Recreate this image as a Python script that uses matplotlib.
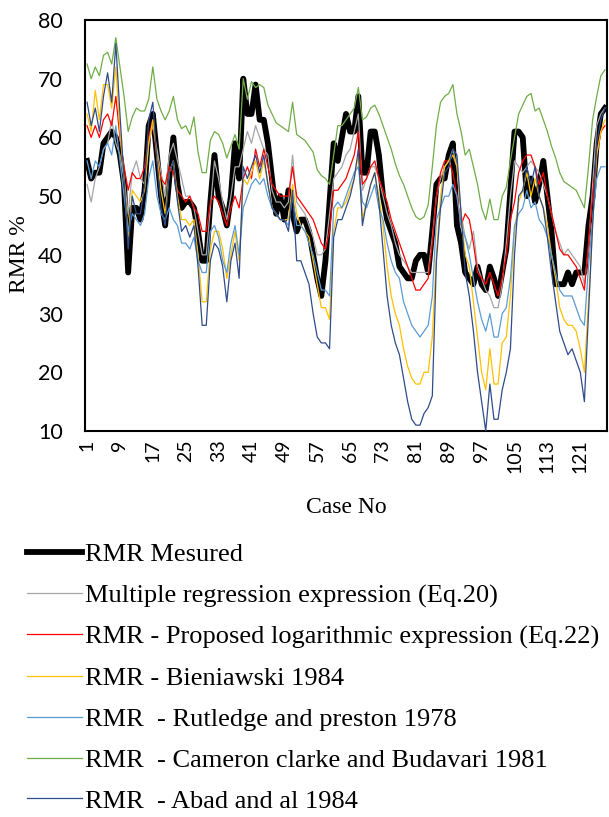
import matplotlib
matplotlib.use("Agg")
import matplotlib.pyplot as plt

# case numbers
cases = list(range(1, 128))

rmr_measured = [56, 53, 54, 54, 59, 60, 61, 60, 57, 52,
                37, 48, 48, 46, 51, 62, 64, 57, 50, 45,
                53, 60, 52, 48, 49, 49, 48, 44, 39, 39,
                49, 57, 50, 48, 45, 50, 59, 53, 70, 64,
                64, 69, 63, 63, 59, 53, 47, 50, 46, 51,
                47, 44, 46, 46, 44, 40, 36, 33, 39, 49,
                59, 56, 60, 64, 61, 61, 67, 54, 54, 61,
                61, 57, 50, 46, 44, 42, 38, 37, 36, 36,
                39, 40, 40, 37, 44, 52, 53, 53, 57, 59,
                45, 42, 37, 36, 35, 38, 35, 34, 38, 36,
                33, 37, 41, 51, 61, 61, 60, 50, 53, 49,
                52, 56, 50, 44, 35, 35, 35, 37, 35, 37,
                37, 37, 45, 50, 59, 64, 65]

multiple_regression = [52, 49, 53, 55, 58, 59, 63, 59, 57, 53,
                       47, 54, 56, 53, 52, 59, 62, 58, 54, 50,
                       57, 59, 56, 53, 50, 50, 48, 44, 40, 40,
                       48, 56, 53, 49, 46, 50, 55, 55, 58, 61,
                       59, 62, 60, 58, 57, 51, 49, 49, 48, 49,
                       57, 49, 48, 47, 45, 43, 40, 40, 41, 47,
                       53, 54, 55, 57, 58, 61, 64, 51, 53, 55,
                       55, 53, 50, 47, 45, 42, 40, 39, 38, 37,
                       37, 37, 37, 37, 43, 50, 53, 55, 56, 58,
                       55, 47, 43, 41, 44, 38, 36, 34, 33, 31,
                       31, 35, 42, 50, 56, 55, 54, 55, 56, 55,
                       54, 52, 50, 47, 44, 42, 40, 41, 40, 39,
                       38, 35, 41, 52, 62, 64, 65]

proposed_log = [62, 60, 62, 60, 63, 64, 62, 67, 60, 55,
                51, 54, 53, 53, 55, 60, 63, 56, 53, 52,
                55, 54, 51, 50, 49, 50, 48, 47, 44, 44,
                49, 50, 49, 47, 45, 48, 50, 48, 53, 55,
                53, 58, 55, 58, 55, 52, 51, 50, 50, 50,
                55, 50, 49, 48, 47, 46, 44, 42, 41, 44,
                51, 51, 52, 53, 55, 57, 61, 52, 53, 55,
                56, 53, 51, 49, 46, 44, 42, 40, 38, 36,
                34, 34, 35, 36, 42, 50, 54, 56, 56, 54,
                50, 45, 47, 46, 42, 37, 36, 35, 37, 35,
                33, 36, 40, 46, 49, 54, 56, 57, 57, 55,
                52, 54, 50, 47, 44, 41, 40, 40, 39, 38,
                36, 34, 42, 50, 57, 61, 62]

bieniawski = [64, 61, 68, 63, 69, 69, 65, 72, 61, 53,
              43, 51, 50, 49, 51, 59, 63, 57, 51, 47,
              54, 56, 50, 46, 46, 45, 46, 40, 32, 32,
              41, 44, 44, 41, 36, 40, 44, 39, 53, 52,
              54, 56, 53, 56, 52, 48, 47, 46, 46, 46,
              52, 47, 45, 44, 43, 39, 35, 31, 31, 29,
              44, 48, 48, 49, 51, 53, 57, 46, 49, 52,
              54, 50, 45, 38, 33, 30, 28, 24, 21, 19,
              18, 18, 20, 20, 26, 40, 50, 55, 56, 57,
              55, 47, 40, 38, 32, 26, 20, 17, 24, 18,
              18, 25, 26, 33, 44, 49, 51, 54, 50, 53,
              50, 48, 45, 40, 36, 31, 29, 28, 28, 27,
              24, 20, 32, 45, 57, 61, 63]

rutledge = [56, 53, 56, 55, 58, 59, 57, 62, 56, 50,
            44, 47, 46, 45, 47, 53, 56, 50, 47, 46,
            48, 46, 45, 42, 42, 41, 43, 39, 37, 37,
            44, 45, 43, 39, 37, 42, 45, 40, 48, 50,
            52, 53, 52, 53, 50, 48, 47, 46, 46, 45,
            50, 45, 45, 44, 42, 40, 37, 34, 34, 33,
            48, 49, 48, 50, 52, 54, 55, 49, 48, 50,
            52, 48, 46, 42, 39, 37, 36, 32, 30, 28,
            27, 26, 27, 28, 33, 46, 48, 50, 50, 52,
            50, 45, 43, 40, 36, 32, 29, 27, 30, 26,
            26, 30, 31, 36, 45, 47, 48, 51, 48, 49,
            46, 45, 43, 40, 37, 34, 33, 33, 33, 31,
            29, 28, 38, 46, 53, 55, 55]

cameron = [72.5, 70, 72, 70.5, 74, 74.5, 72.5, 77, 72, 67,
           61, 63.5, 65, 64.5, 64.5, 66.5, 72, 66.5, 64.5, 63,
           64.5, 67, 63, 61.5, 62, 60.5, 63.5, 57.5, 54, 54,
           59.5, 61, 60.5, 59, 56.5, 58.5, 60.5, 58, 70, 66.5,
           69.5, 68.5, 69, 68.5, 65.5, 64, 62.5, 62, 61.5, 61,
           66, 60.5, 60, 59.5, 58.5, 57.5, 54.5, 53.5, 53, 52,
           57, 62, 62, 63, 64, 65, 68.5, 63, 63.5, 65,
           65.5, 64, 62, 60, 58, 55.5, 53.5, 52, 50, 48,
           46.5, 46, 46.5, 48.5, 55, 62, 66, 67, 67.5, 69,
           64, 61, 57, 58, 55, 52, 48, 46, 49.5, 46,
           46, 50, 51.5, 56, 60, 64, 65.5, 67, 67.5, 64.5,
           65, 63, 61, 58.5, 56.5, 54, 52.5, 52, 51.5, 51,
           49.5, 48, 55, 63, 67, 70.5, 71.5]

abad = [66, 62, 65, 61, 67, 71, 66, 76, 64, 53,
        41, 50, 47, 47, 52, 63, 66, 56, 48, 45,
        54, 56, 49, 44, 45, 43, 45, 38, 28, 28,
        39, 42, 41, 38, 32, 39, 42, 36, 55, 53,
        55, 57, 54, 57, 52, 48, 47, 46, 46, 44,
        51, 39, 39, 37, 35, 30, 26, 25, 25, 24,
        43, 46, 46, 48, 50, 53, 58, 45, 49, 52,
        54, 49, 41, 33, 28, 25, 23, 19, 15, 12,
        11, 11, 13, 14, 16, 39, 48, 54, 55, 58,
        57, 47, 37, 33, 27, 20, 15, 10, 18, 12,
        12, 17, 20, 24, 40, 50, 51, 55, 52, 55,
        50, 48, 43, 37, 32, 27, 25, 23, 24, 22,
        20, 15, 30, 45, 59, 63, 65]

x_ticks = list(range(1, 128, 8))

serif = ['Liberation Serif', 'DejaVu Serif']
sans = ['Lato', 'DejaVu Sans']

fig = plt.figure(figsize=(6.09, 8.17), dpi=100)
ax = fig.add_axes([85 / 609, 1 - 431 / 817, 522 / 609, 411 / 817])

ax.plot(cases, rmr_measured, color='black', lw=4.2, label='RMR Mesured',
        solid_joinstyle='round', zorder=2)
ax.plot(cases, multiple_regression, color='#A5A5A5', lw=0.9,
        label='Multiple regression expression (Eq.20)', zorder=3)
ax.plot(cases, proposed_log, color='#FF0000', lw=0.9,
        label='RMR - Proposed logarithmic expression (Eq.22)', zorder=3)
ax.plot(cases, bieniawski, color='#FFC000', lw=0.9,
        label='RMR - Bieniawski 1984', zorder=3)
ax.plot(cases, rutledge, color='#5B9BD5', lw=0.9,
        label='RMR  - Rutledge and preston 1978', zorder=3)
ax.plot(cases, cameron, color='#70AD47', lw=0.9,
        label='RMR  - Cameron clarke and Budavari 1981', zorder=3)
ax.plot(cases, abad, color='#2F4B8A', lw=0.9,
        label='RMR  - Abad and al 1984', zorder=3)

ax.set_xlim(0.5, 127.5)
ax.set_ylim(10, 80)
ax.set_yticks(range(10, 81, 10))
ax.set_xticks(x_ticks)
ax.set_xticklabels([str(t) for t in x_ticks], rotation=90, family=sans, fontsize=14)
for lab in ax.get_yticklabels():
    lab.set_family(sans)
    lab.set_fontsize(15.5)
ax.tick_params(axis='x', length=0, pad=6)
ax.tick_params(axis='y', length=0, pad=16)
for sp in ax.spines.values():
    sp.set_linewidth(1.5)
    sp.set_color('black')

ax.set_ylabel('RMR %', family=serif, fontsize=17)
ax.yaxis.set_label_coords(-0.105, 0.43)
ax.set_xlabel('Case No', family=serif, fontsize=17, labelpad=17)

fig.legend(loc='upper left', bbox_to_anchor=(27 / 609, 1 - 543 / 817),
           frameon=False, prop={'family': serif, 'size': 19},
           handlelength=2.1, handletextpad=0.1, labelspacing=0.66,
           borderaxespad=0, borderpad=0)

fig.savefig('out.png', dpi=100)
